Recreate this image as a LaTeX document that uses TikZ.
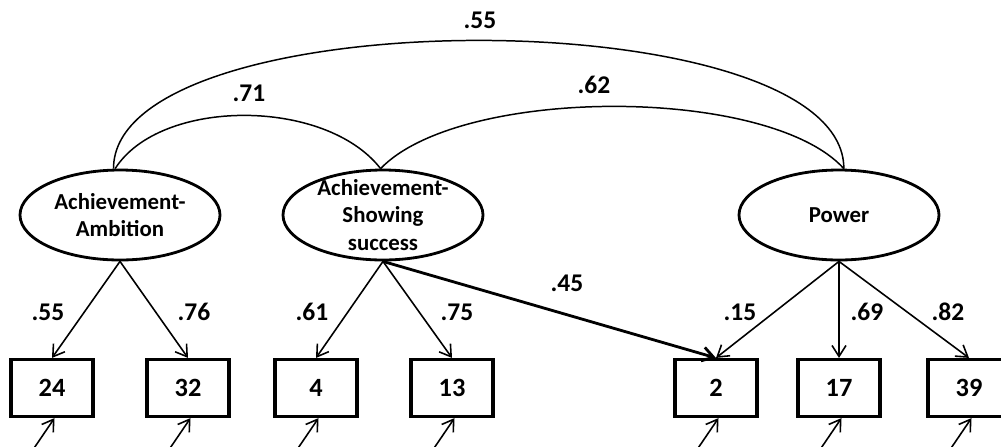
\documentclass[tikz,border=0pt]{standalone}
\usepackage{fontspec}
\setmainfont{Carlito}
\usepackage{tikz}
\usetikzlibrary{
  shapes.geometric
  , arrows.meta
  % ------
}

\begin{document}
\begin{tikzpicture}[x=0.2mm, y=-0.2mm,
    >={Straight Barb[length=2.2mm,width=2.8mm]},
    latent/.style={ellipse, draw=black, line width=1.6pt,
      minimum width=4cm, minimum height=1.8cm, inner sep=0pt},
    latentname/.style={align=center,
      font=\fontsize{13}{15.5}\selectfont\bfseries},
    item/.style={draw=black, line width=1.8pt,
      minimum width=1.64cm, minimum height=1.14cm,
      font=\fontsize{15}{17}\selectfont\bfseries},
    coef/.style={font=\fontsize{14.5}{17}\selectfont\bfseries},
    loading/.style={->, line width=0.9pt},
    corr/.style={line width=0.85pt}]
      \useasboundingbox (0,0) rectangle (1001,446);
      \clip (0,0) rectangle (1001,446);

      % latent factors
      \node [latent,
        label={[latentname]center:{Achievement-\\Ambition}}] (AA) at (120,215) {};
      \node [latent,
        label={[latentname]center:{Achievement-\\Showing\\success}}] (AS) at (383,215) {};
      \node [latent,
        label={[latentname]center:{Power}}] (PW) at (839,215) {};

      % items
      \node [item] (n24) at (52,388) {24};
      \node [item] (n32) at (188,388) {32};
      \node [item] (n4) at (316,388) {4};
      \node [item] (n13) at (452,388) {13};
      \node [item] (n2) at (716,388) {2};
      \node [item] (n17) at (839,388) {17};
      \node [item] (n39) at (969,388) {39};

      % correlations
      \draw [corr] (AA.98) .. controls +(0,-171) and +(0,-171) .. (PW.84);
      \draw [corr] (AA.96) .. controls +(45,-71) and +(-55,-71) .. (AS.93);
      \draw [corr] (AS.93) .. controls +(80,-83) and +(-75,-83) .. (PW.84);
      \node [coef] (r55) at (480,20) {.55};
      \node [coef] (r71) at (249,93) {.71};
      \node [coef] (r62) at (594,85) {.62};

      % loadings
      \draw [loading] (AA.south) -- (n24.north);
      \draw [loading] (AA.south) -- (n32.north);
      \draw [loading] (AS.south) -- (n4.north);
      \draw [loading] (AS.south) -- (n13.north);
      \draw [loading, line width=1.6pt] (AS.south) -- (n2.north);
      \draw [loading] (PW.south) -- (n2.north);
      \draw [loading] (PW.south) -- (n17.north);
      \draw [loading] (PW.south) -- (n39.north);
      \node [coef] (l24) at (48,312) {.55};
      \node [coef] (l32) at (194,312) {.76};
      \node [coef] (l4) at (312,312) {.61};
      \node [coef] (l13) at (457,312) {.75};
      \node [coef] (l2a) at (567,283) {.45};
      \node [coef] (l2b) at (740,312) {.15};
      \node [coef] (l17) at (867,312) {.69};
      \node [coef] (l39) at (948,312) {.82};

      % errors
      \foreach \b in {24,32,4,13,2,17,39} {
        \coordinate (e\b) at ([shift={(-22,36)}]n\b.south);
        \draw [loading] (e\b) -- ([xshift=0.5mm]n\b.south);
      }
    \end{tikzpicture}
\end{document}
